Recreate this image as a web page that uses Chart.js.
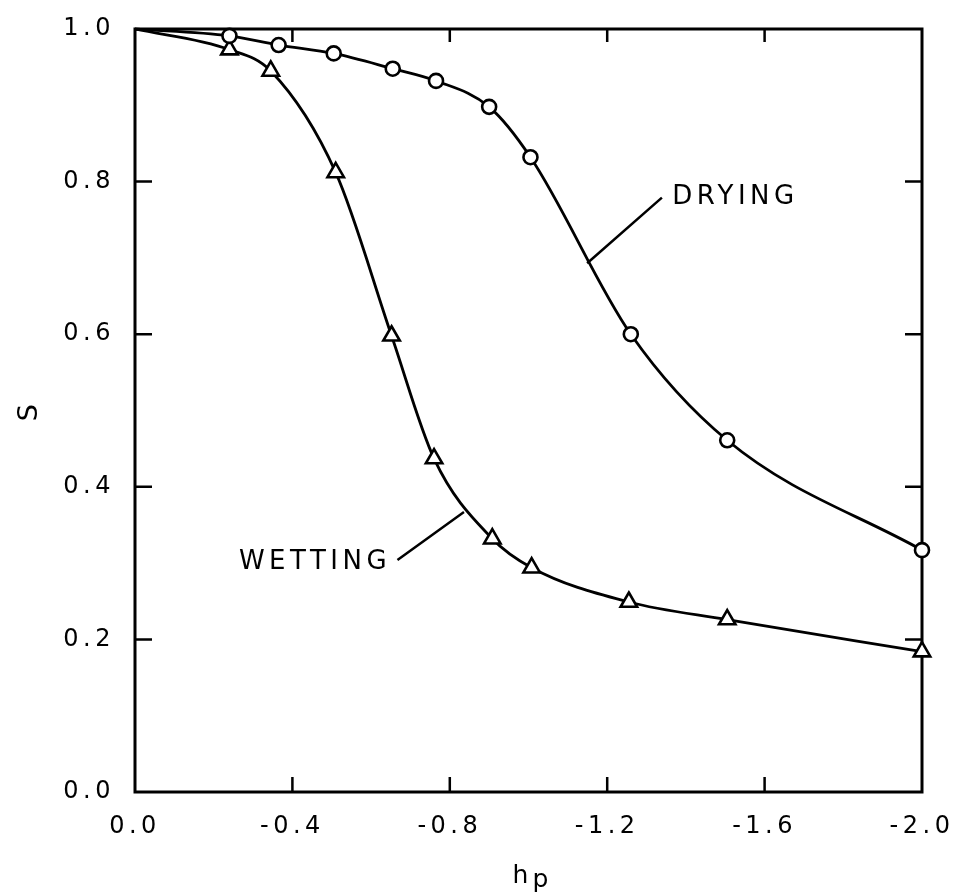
<!DOCTYPE html>
<html>
<head>
<meta charset="utf-8">
<style>
  html, body { margin: 0; padding: 0; background: #fff; }
  #wrap { width: 961px; height: 896px; position: relative; }
</style>
<script src="https://cdn.jsdelivr.net/npm/chart.js@4/dist/chart.umd.min.js"></script>
</head>
<body>
<div id="wrap"><canvas id="c" width="961" height="896"></canvas></div>
<script>
// ---- data ----
const hDrying  = [0, -0.24, -0.365, -0.505, -0.655, -0.765, -0.90, -1.005, -1.26, -1.505, -2.0];
const sDrying  = [1.0, 0.991, 0.979, 0.968, 0.948, 0.932, 0.898, 0.832, 0.600, 0.461, 0.317];
const hWetting = [0, -0.24, -0.345, -0.51, -0.652, -0.76, -0.908, -1.008, -1.255, -1.505, -2.0];
const sWetting = [1.0, 0.973, 0.945, 0.812, 0.598, 0.437, 0.332, 0.294, 0.249, 0.226, 0.184];
const xTicks = [0, -0.4, -0.8, -1.2, -1.6, -2.0];
const yTicks = [0, 0.2, 0.4, 0.6, 0.8, 1.0];
const seriesLabels = ['DRYING', 'WETTING'];
const xTitle = ['h', 'p'];
const yTitle = 'S';

const toPts = (xs, ys) => xs.map((x, i) => ({x: x, y: ys[i]}));
const FONT = 'DejaVu Sans';

const spacingPlugin = {
  id: 'spacing',
  beforeLayout(chart) { chart.ctx.letterSpacing = '4.5px'; },
  beforeDraw(chart) {
    const ctx = chart.ctx;
    ctx.save();
    ctx.fillStyle = '#fff';
    ctx.fillRect(0, 0, chart.width, chart.height);
    ctx.restore();
    ctx.letterSpacing = '4.5px';
  }
};

const framePlugin = {
  id: 'frame',
  beforeDatasetsDraw(chart) {
    const {ctx, chartArea: a, scales: {x, y}} = chart;
    ctx.save();
    ctx.strokeStyle = '#000';
    ctx.lineWidth = 3;
    ctx.strokeRect(a.left, a.top, a.right - a.left, a.bottom - a.top);
    ctx.lineWidth = 2.5;
    ctx.beginPath();
    xTicks.forEach(v => {
      const px = x.getPixelForValue(v);
      if (Math.abs(px - a.left) < 2 || Math.abs(px - a.right) < 2) return;
      ctx.moveTo(px, a.bottom); ctx.lineTo(px, a.bottom - 15);
      ctx.moveTo(px, a.top); ctx.lineTo(px, a.top + 13);
    });
    yTicks.forEach(v => {
      const py = y.getPixelForValue(v);
      if (Math.abs(py - a.top) < 2 || Math.abs(py - a.bottom) < 2) return;
      ctx.moveTo(a.left, py); ctx.lineTo(a.left + 17, py);
      ctx.moveTo(a.right, py); ctx.lineTo(a.right - 17, py);
    });
    ctx.stroke();
    ctx.restore();
  }
};

const annotPlugin = {
  id: 'annot',
  afterDraw(chart) {
    const {ctx, chartArea: a, scales: {x, y}} = chart;
    ctx.save();
    ctx.strokeStyle = '#000';
    ctx.fillStyle = '#000';
    ctx.lineWidth = 2.5;
    // leader lines (data coordinates)
    ctx.beginPath();
    ctx.moveTo(x.getPixelForValue(-1.339), y.getPixelForValue(0.779));
    ctx.lineTo(x.getPixelForValue(-1.149), y.getPixelForValue(0.693));
    ctx.moveTo(x.getPixelForValue(-0.667), y.getPixelForValue(0.304));
    ctx.lineTo(x.getPixelForValue(-0.836), y.getPixelForValue(0.367));
    ctx.stroke();
    ctx.letterSpacing = '4.5px';
    ctx.font = '26px "' + FONT + '"';
    ctx.textBaseline = 'middle';
    ctx.textAlign = 'left';
    ctx.fillText(seriesLabels[0], x.getPixelForValue(-1.365), y.getPixelForValue(0.779));
    ctx.fillText(seriesLabels[1], x.getPixelForValue(-0.264), y.getPixelForValue(0.301));
    // x-axis title h_p
    ctx.letterSpacing = '0px';
    ctx.font = '25px "' + FONT + '"';
    ctx.textBaseline = 'alphabetic';
    const cx = (a.left + a.right) / 2;
    ctx.fillText(xTitle[0], cx - 16, a.bottom + 91);
    ctx.fillText(xTitle[1], cx + 4, a.bottom + 95);
    ctx.restore();
  }
};

const fmt = v => (Math.abs(v) < 1e-9 ? '0.0' : v.toFixed(1));

new Chart(document.getElementById('c'), {
  type: 'line',
  data: {
    datasets: [
      {
        label: seriesLabels[0],
        data: toPts(hDrying, sDrying),
        borderColor: '#000',
        borderWidth: 2.8,
        cubicInterpolationMode: 'monotone',
        pointStyle: 'circle',
        pointRadius: hDrying.map((_, i) => i === 0 ? 0 : 7),
        pointBorderWidth: 2.6,
        pointBorderColor: '#000',
        pointBackgroundColor: '#fff',
        clip: false
      },
      {
        label: seriesLabels[1],
        data: toPts(hWetting, sWetting),
        borderColor: '#000',
        borderWidth: 2.8,
        cubicInterpolationMode: 'monotone',
        pointStyle: 'triangle',
        pointRadius: hWetting.map((_, i) => i === 0 ? 0 : 9.5),
        pointBorderWidth: 2.6,
        pointBorderColor: '#000',
        pointBackgroundColor: '#fff',
        clip: false
      }
    ]
  },
  options: {
    responsive: false,
    animation: false,
    devicePixelRatio: 1,
    layout: { padding: { top: 29, right: 39, left: 0, bottom: 0 } },
    plugins: { legend: { display: false }, tooltip: { enabled: false } },
    scales: {
      x: {
        type: 'linear',
        min: -2.0, max: 0,
        reverse: true,
        afterFit(s) { s.height = 104; s.paddingLeft = 0; s.paddingRight = 0; },
        afterBuildTicks(s) { s.ticks = xTicks.map(v => ({value: v})); },
        grid: { display: false, drawTicks: false },
        border: { display: false },
        ticks: {
          padding: 20,
          color: '#000',
          font: { family: FONT, size: 24 },
          maxRotation: 0,
          callback: v => fmt(v)
        }
      },
      y: {
        type: 'linear',
        min: 0, max: 1.0,
        afterFit(s) { s.width = 135; s.paddingTop = 0; s.paddingBottom = 0; },
        afterBuildTicks(s) { s.ticks = yTicks.map(v => ({value: v})); },
        grid: { display: false, drawTicks: false },
        border: { display: false },
        ticks: {
          padding: 20,
          color: '#000',
          font: { family: FONT, size: 24 },
          callback: v => fmt(v)
        },
        title: {
          display: true,
          text: yTitle,
          color: '#000',
          font: { family: FONT, size: 27 },
          padding: { top: 14, bottom: 0 }
        }
      }
    }
  },
  plugins: [spacingPlugin, framePlugin, annotPlugin]
});
</script>
</body>
</html>
